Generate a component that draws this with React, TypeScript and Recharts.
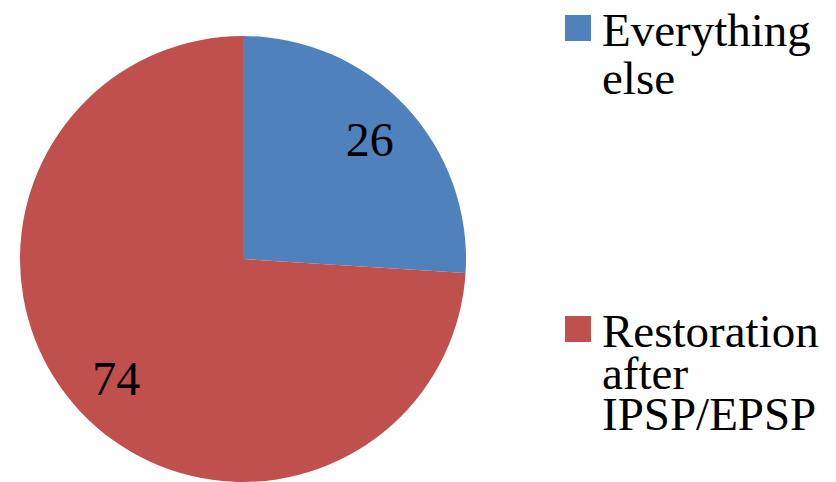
import { PieChart, Pie, Cell } from "recharts"

const categories = ["Everything else", "Restoration after IPSP/EPSP"]
const values = [26, 74]
const colors = ["#4F81BD", "#C0504D"]
// legend text broken the way the original wraps it
const legendLines = [["Everything", "else"], ["Restoration", "after", "IPSP/EPSP"]]

const data = categories.map((name, i) => ({ name, value: values[i] }))

const RADIAN = Math.PI / 180
const SERIF = "Liberation Serif"

function renderLabel(props: any) {
    const { cx, cy, midAngle, outerRadius, value } = props
    const r = outerRadius * 0.78
    const x = cx + r * Math.cos(-midAngle * RADIAN)
    const y = cy + r * Math.sin(-midAngle * RADIAN)
    return (
        <text
            x={x}
            y={y}
            fill="#000"
            textAnchor="middle"
            dominantBaseline="central"
            fontFamily={SERIF}
            fontSize={48}
        >
            {value}
        </text>
    )
}

// legend placement: first baseline of each entry and line step
const legendTop = [46, 347]
const legendStep = [48, 41.5]

export default function App() {
    return (
        <div style={{ position: "absolute", left: 0, top: 0, width: 836, height: 482, background: "#fff" }}>
            <PieChart width={836} height={482} margin={{ top: 0, right: 0, bottom: 0, left: 0 }}>
                <Pie
                    data={data}
                    dataKey="value"
                    nameKey="name"
                    cx={243}
                    cy={259}
                    outerRadius={223}
                    startAngle={90}
                    endAngle={-270}
                    stroke="none"
                    label={renderLabel}
                    labelLine={false}
                    isAnimationActive={false}
                >
                    {data.map((d, i) => (
                        <Cell key={d.name} fill={colors[i]} />
                    ))}
                </Pie>
            </PieChart>

            <svg width={836} height={482} style={{ position: "absolute", left: 0, top: 0 }}>
                {categories.map((name, i) => (
                    <g key={name}>
                        <rect x={565} y={legendTop[i] - 31} width={26} height={26} fill={colors[i]} />
                        <text fontFamily={SERIF} fontSize={47} fill="#000">
                            {legendLines[i].map((line, j) => (
                                <tspan key={line} x={602} y={legendTop[i] + j * legendStep[i]}>
                                    {line}
                                </tspan>
                            ))}
                        </text>
                    </g>
                ))}
            </svg>
        </div>
    )
}
